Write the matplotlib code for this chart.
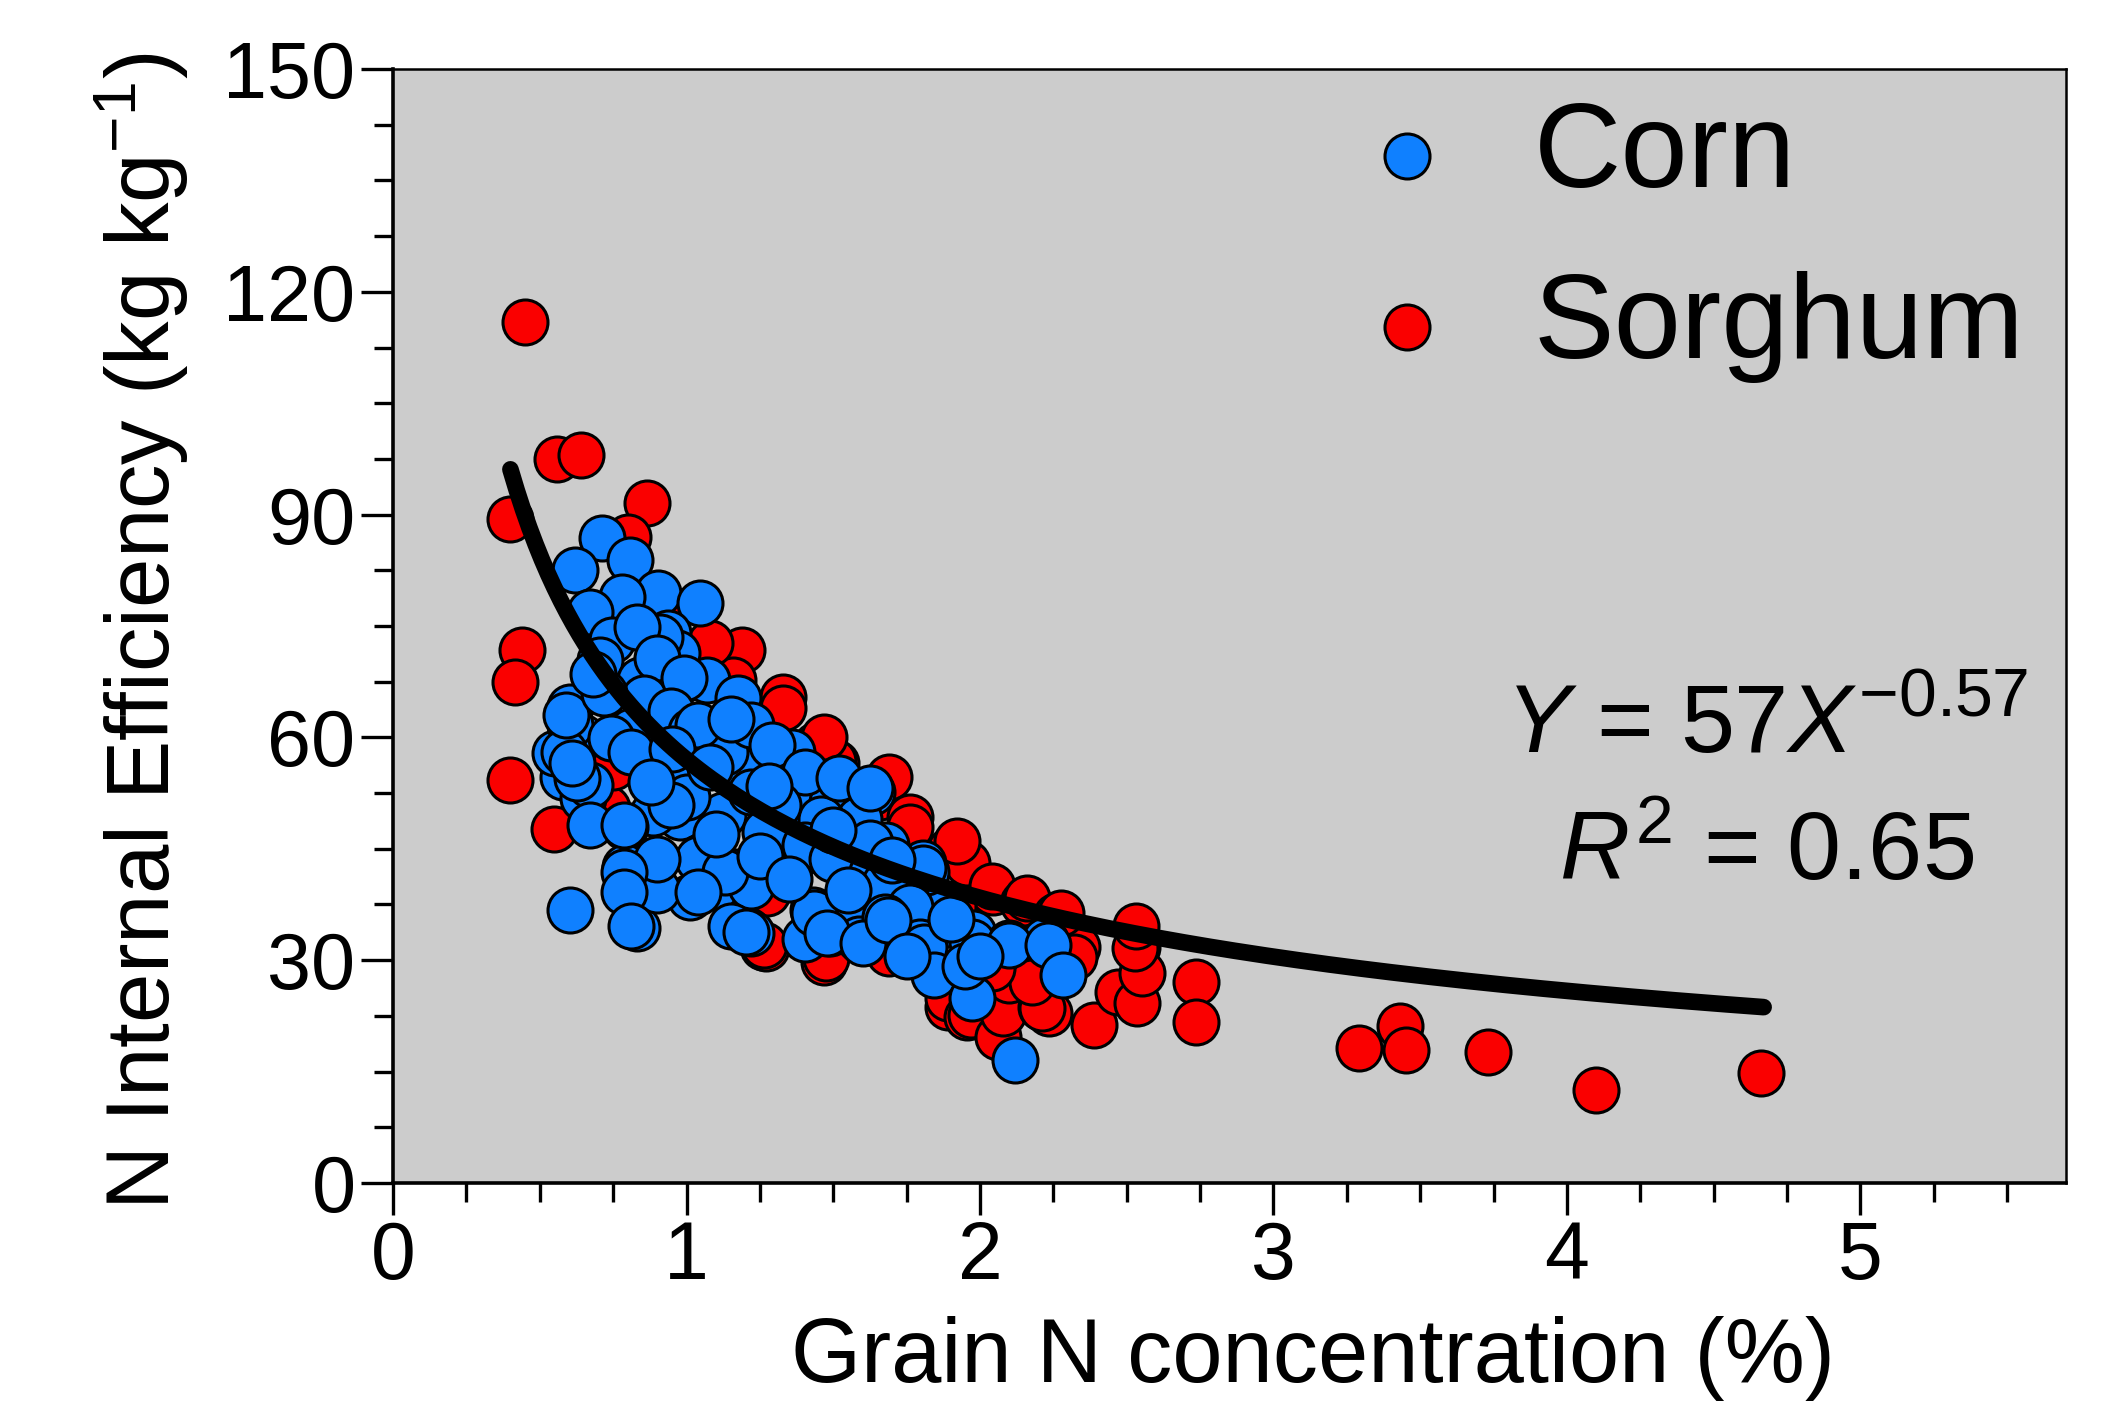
import matplotlib as mpl
import matplotlib.pyplot as plt
import numpy as np
from matplotlib.ticker import MultipleLocator

# grain N concentration (%) and N internal efficiency (kg kg-1)
sorghum_x = [0.45, 0.56, 0.64, 0.40, 0.865, 0.80, 0.44, 0.416, 0.40, 0.55, 0.73, 0.75,
             1.19, 1.16, 1.33, 1.08, 0.95, 1.33, 1.44, 1.454, 1.51, 1.50, 1.47, 1.66,
             1.69, 1.76, 1.761, 1.897, 1.955, 1.92, 2.044, 2.04, 2.146, 2.16, 2.27, 2.26,
             1.907, 2.33, 2.534, 1.273, 1.26, 1.27, 1.478, 1.47, 1.69, 1.263, 1.474, 1.69,
             1.89, 1.89, 1.955, 1.97, 2.06, 2.077, 2.10, 2.207, 2.236, 2.21, 2.388, 2.47,
             2.534, 2.553, 2.529, 2.53, 2.735, 2.735, 2.277, 2.32, 2.176, 2.04,
             3.29, 3.43, 3.45, 3.73, 4.10, 4.66]
sorghum_y = [115.9, 97.5, 98.0, 89.4, 91.6, 87.0, 71.8, 67.5, 54.2, 47.6, 50.5, 56.0,
             71.8, 67.7, 65.4, 72.7, 77.1, 64.0, 59.0, 58.7, 56.5, 56.8, 60.0, 52.0,
             54.7, 49.3, 47.9, 44.8, 43.1, 46.0, 39.2, 40.0, 37.7, 38.4, 35.8, 36.0,
             37.2, 31.8, 31.8, 39.0, 31.8, 31.6, 31.4, 29.8, 31.6, 32.0, 30.3, 31.0,
             23.7, 24.9, 22.4, 22.6, 19.7, 22.9, 27.3, 23.7, 22.9, 23.5, 21.3, 25.7,
             24.2, 28.3, 31.6, 34.6, 27.1, 21.7, 36.3, 30.4, 27.1, 29.0,
             18.2, 21.1, 17.9, 17.7, 12.5, 14.8]

corn_x = [0.711, 0.62, 0.807, 0.903, 1.046, 0.78, 0.671, 0.745, 0.937, 0.705, 0.984, 1.07,
          0.967, 0.84, 0.603, 0.909, 0.83, 0.90, 0.855, 0.993, 0.947,
          0.643, 0.58, 0.647, 0.552, 0.627, 0.603, 0.582, 0.672, 0.627, 0.59, 0.61,
          1.022, 1.199, 1.124, 0.977, 0.886, 0.79, 1.046, 0.79, 1.165, 1.011, 0.797, 0.83,
          0.603, 1.205, 1.34, 1.43, 1.45, 1.557, 1.488, 1.33, 0.933, 1.0, 1.18, 0.90,
          1.10, 1.546, 1.386,
          1.015, 1.2, 1.358, 1.403, 1.495, 1.632, 1.587, 1.68, 1.805, 1.458, 1.22, 1.13,
          0.947, 0.81, 0.742, 0.672, 0.787, 0.81, 1.04, 1.175, 1.22, 1.29, 1.403, 1.52,
          1.312, 1.267, 1.403, 1.495, 1.632, 1.723, 1.86, 1.45, 1.587, 1.70, 1.22, 1.04,
          1.13, 0.90, 0.787, 0.787, 0.81, 1.04, 1.15, 1.22, 1.403, 1.587, 1.86, 1.815,
          1.625, 1.805, 1.676, 1.761, 1.676, 1.795, 1.976, 2.10, 2.22, 1.625,
          1.204, 1.433, 1.48, 1.603, 1.685, 1.808, 1.843, 1.972, 2.10, 2.23, 2.283, 1.972,
          2.118, 1.95,
          0.95, 1.10, 1.25, 1.35, 1.55, 0.72, 0.68, 1.08, 1.28, 1.50, 1.70, 0.88,
          1.15, 1.90, 2.00, 1.75]
corn_y = [86.9, 82.5, 83.9, 79.4, 78.1, 78.9, 76.9, 73.1, 74.0, 70.4, 67.7, 67.7,
          71.4, 67.7, 64.1, 73.5, 74.9, 70.7, 65.3, 68.0, 63.5,
          60.1, 54.7, 51.8, 57.9, 59.4, 61.7, 58.1, 53.6, 54.5, 63.0, 56.5,
          60.6, 55.6, 49.5, 49.3, 49.8, 47.9, 43.9, 42.5, 41.9, 38.5, 39.5, 34.3,
          36.8, 34.1, 47.9, 36.8, 46.2, 43.5, 33.7, 55.6, 55.2, 52.0, 41.2, 39.5,
          39.9, 53.3, 44.4,
          60.8, 55.4, 58.1, 52.6, 51.3, 52.6, 49.0, 45.5, 43.1, 49.0, 52.6, 58.1,
          50.9, 60.8, 59.9, 48.2, 48.2, 58.1, 61.7, 65.3, 61.7, 59.0, 55.3, 54.5,
          50.9, 47.3, 45.5, 43.6, 41.9, 40.0, 37.3, 34.6, 36.4, 34.6, 40.0, 43.6,
          41.9, 43.6, 41.9, 39.2, 34.6, 39.2, 34.6, 33.7, 32.9, 32.9, 34.6, 41.9,
          53.2, 42.4, 40.4, 37.2, 35.8, 32.4, 33.7, 32.3, 32.7, 45.8,
          33.8, 36.3, 33.7, 32.3, 35.4, 31.8, 28.0, 32.5, 32.0, 32.0, 28.0, 24.9,
          16.6, 29.2,
          58.5, 47.0, 44.0, 41.0, 39.5, 66.0, 68.5, 56.0, 53.5, 47.5, 43.5, 54.0,
          62.5, 35.5, 30.5, 30.5]

# power fit printed on the chart: Y = 57 X^-0.57, drawn over the range of the data
fit_a = 57
fit_b = -0.57
fit_xmin, fit_xmax = 0.40, 4.67

mpl.rcParams['font.family'] = ['Liberation Sans', 'DejaVu Sans']
mpl.rcParams['mathtext.fontset'] = 'custom'
mpl.rcParams['mathtext.rm'] = 'Liberation Sans'
mpl.rcParams['mathtext.it'] = 'Liberation Sans:italic'

fig = plt.figure(figsize=(21.04, 14.12), dpi=100)
ax = fig.add_axes([0.1868, 0.1622, 0.7951, 0.7889])
ax.set_facecolor('#cccccc')

s = 1050
sorg = ax.scatter(sorghum_x, sorghum_y, s=s, color='#fa0000', edgecolors='black',
                  linewidths=2.2, zorder=2, label='Sorghum')
corn = ax.scatter(corn_x, corn_y, s=s, color='#0f80ff', edgecolors='black',
                  linewidths=2.2, zorder=3, label='Corn')

xf = np.linspace(fit_xmin, fit_xmax, 200)
ax.plot(xf, fit_a * xf ** fit_b, color='black', lw=12, solid_capstyle='round', zorder=4)

ax.set_xlim(0, 5.70)
ax.set_ylim(0, 150)
ax.set_xticks([0, 1, 2, 3, 4, 5])
ax.set_yticks([0, 30, 60, 90, 120, 150])
ax.xaxis.set_minor_locator(MultipleLocator(0.25))
ax.yaxis.set_minor_locator(MultipleLocator(7.5))
ax.tick_params(which='major', direction='out', length=23, width=2.4, pad=4)
ax.tick_params(which='minor', direction='out', length=14, width=2.4)
ax.tick_params(axis='x', labelsize=58)
ax.tick_params(axis='y', labelsize=57)

for side in ['left', 'bottom']:
    ax.spines[side].set_linewidth(2.6)
for side in ['top', 'right']:
    ax.spines[side].set_linewidth(1.8)

leg = ax.legend(handles=[corn, sorg], loc='upper left', bbox_to_anchor=(0.570, 0.972),
                frameon=False, fontsize=87, handlelength=1.0, handletextpad=0.55,
                labelspacing=0.49, borderpad=0, borderaxespad=0, scatterpoints=1)

ax.text(4.68, 58.0, r'$\mathit{Y}$ = 57$\mathit{X}^{\mathrm{-0.57}}$', fontsize=70,
        ha='center', va='baseline', zorder=5)
ax.text(4.68, 40.9, r'$\mathit{R}^{\mathrm{2}}$ = 0.65', fontsize=70,
        ha='center', va='baseline', zorder=5)

fig.text(0.067, 0.553, r'N Internal Efficiency (kg kg$^{\mathrm{-1}}$)', fontsize=64,
         rotation=90, ha='center', va='center')
fig.text(0.624, 0.021, 'Grain N concentration (%)', fontsize=65,
         ha='center', va='baseline')

fig.savefig('out.png', dpi=100)
